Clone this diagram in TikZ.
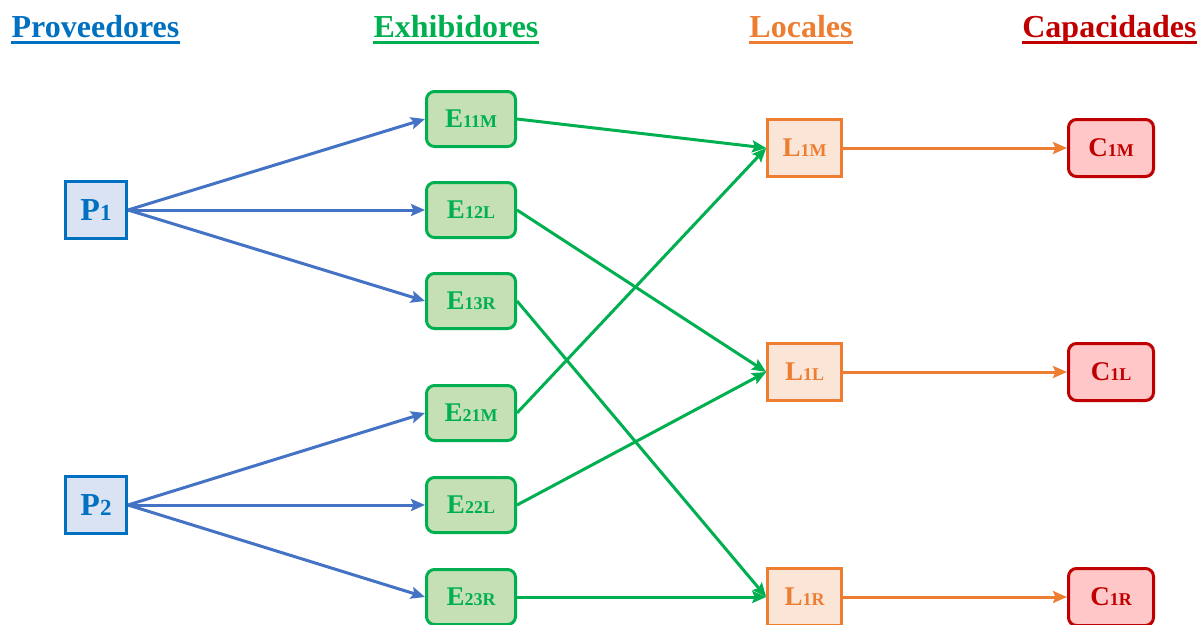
\documentclass[tikz,border=0pt]{standalone}
\usepackage{fontspec}
\setmainfont{Liberation Serif}
\usetikzlibrary{arrows.meta}
\definecolor{pblue}{HTML}{0070C0}
\definecolor{pfill}{HTML}{DAE3F3}
\definecolor{ablue}{HTML}{4472C4}
\definecolor{egreen}{HTML}{00B050}
\definecolor{efill}{HTML}{C5E0B4}
\definecolor{lorange}{HTML}{ED7D31}
\definecolor{lfill}{HTML}{FBE5D6}
\definecolor{cred}{HTML}{C00000}
\definecolor{cfill}{HTML}{FFC7C7}
\newcommand\lab[2]{\bfseries{\fontsize{27}{27}\selectfont #1}{\fontsize{18}{18}\selectfont #2}}
\newcommand\plab[2]{\bfseries{\fontsize{32}{32}\selectfont #1}{\fontsize{23}{23}\selectfont #2}}
\tikzset{
  pbox/.style={draw=pblue, fill=pfill, line width=3pt, minimum width=61pt, minimum height=57pt, inner sep=0pt, text=pblue},
  ebox/.style={draw=egreen, fill=efill, line width=3pt, rounded corners=8pt, minimum width=89pt, minimum height=55pt, inner sep=0pt, text=egreen},
  lbox/.style={draw=lorange, fill=lfill, line width=2.6pt, minimum width=74pt, minimum height=57pt, inner sep=0pt, text=lorange},
  cbox/.style={draw=cred, fill=cfill, line width=3pt, rounded corners=8pt, minimum width=85pt, minimum height=57pt, inner sep=0pt, text=cred},
  title/.style={font=\bfseries\fontsize{32}{32}\selectfont, anchor=base, inner sep=0pt},
  tip/.style={-{Stealth[length=14pt,width=12pt,inset=2.5pt]}},
  barrow/.style={draw=ablue, line width=3pt, tip},
  garrow/.style={draw=egreen, line width=3pt, tip},
  oarrow/.style={draw=lorange, line width=3pt, tip},
}
\begin{document}
\begin{tikzpicture}[x=1pt,y=-1pt]
\useasboundingbox (0,0) rectangle (1201,624);
% titles
\node[title, text=pblue] (t1) at (95.5,37) {Proveedores};
\node[title, text=egreen] (t2) at (456,37) {Exhibidores};
\node[title, text=lorange] (t3) at (801,37) {Locales};
\node[title, text=cred] (t4) at (1109.5,37) {Capacidades};
\foreach \t/\c in {t1/pblue,t2/egreen,t3/lorange,t4/cred}{
  \draw[\c, line width=2.8pt] ([yshift=-5.5pt]\t.base west) -- ([yshift=-5.5pt]\t.base east);
}
% nodes
\node[pbox] (P1) at (96,210) {\plab{P}{1}};
\node[pbox] (P2) at (96,505) {\plab{P}{2}};
\node[ebox] (E11M) at (471,119) {\lab{E}{11M}};
\node[ebox] (E12L) at (471,210) {\lab{E}{12L}};
\node[ebox] (E13R) at (471,301) {\lab{E}{13R}};
\node[ebox] (E21M) at (471,413) {\lab{E}{21M}};
\node[ebox] (E22L) at (471,505) {\lab{E}{22L}};
\node[ebox] (E23R) at (471,597) {\lab{E}{23R}};
\node[lbox] (L1M) at (804.5,148) {\lab{L}{1M}};
\node[lbox] (L1L) at (804.5,372) {\lab{L}{1L}};
\node[lbox] (L1R) at (804.5,597) {\lab{L}{1R}};
\node[cbox] (C1M) at (1111,148) {\lab{C}{1M}};
\node[cbox] (C1L) at (1111,372) {\lab{C}{1L}};
\node[cbox] (C1R) at (1111,597) {\lab{C}{1R}};
% blue arrows
\foreach \e in {E11M,E12L,E13R}{\draw[barrow] (P1.east) -- (\e.west);}
\foreach \e in {E21M,E22L,E23R}{\draw[barrow] (P2.east) -- (\e.west);}
% green arrows
\draw[garrow] (E11M.east) -- (L1M.west);
\draw[garrow] (E12L.east) -- (L1L.west);
\draw[garrow] (E13R.east) -- (L1R.west);
\draw[garrow] (E21M.east) -- (L1M.west);
\draw[garrow] (E22L.east) -- (L1L.west);
\draw[garrow] (E23R.east) -- (L1R.west);
% orange arrows
\draw[oarrow] (L1M.east) -- (C1M.west);
\draw[oarrow] (L1L.east) -- (C1L.west);
\draw[oarrow] (L1R.east) -- (C1R.west);
\end{tikzpicture}
\end{document}
